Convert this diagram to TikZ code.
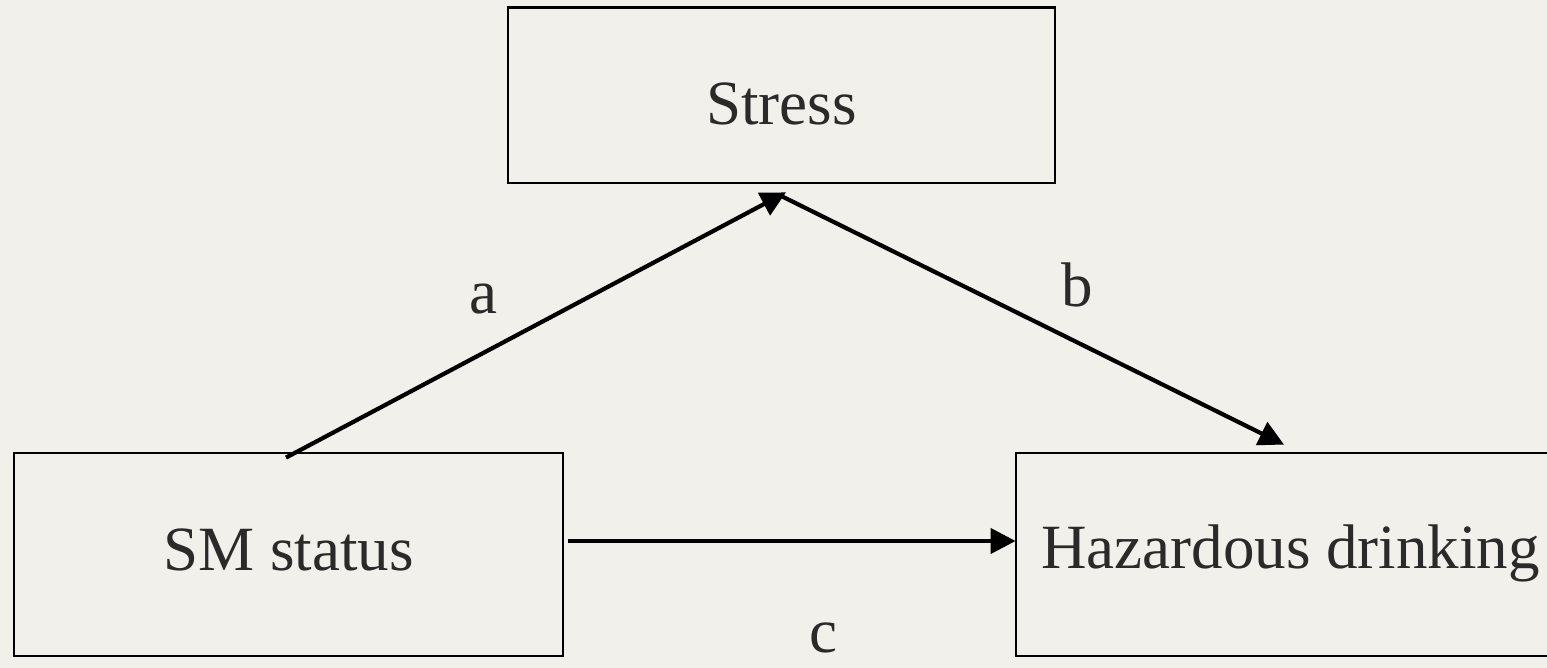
\documentclass[tikz,border=0pt]{standalone}
\usepackage{fontspec}
\setmainfont{Liberation Serif}
\usetikzlibrary{arrows.meta,calc}
\definecolor{bgcol}{RGB}{242,240,234}
\definecolor{txtcol}{RGB}{42,42,42}
\tikzset{
  varbox/.style={draw=black, line width=2.8pt, rectangle, inner sep=0pt,
    minimum width=547pt, text=txtcol, font=\fontsize{63}{70}\selectfont, text depth=0pt},
  patharrow/.style={line width=4.2pt, -{Triangle[length=25pt,width=25pt]}},
  pathlabel/.style={anchor=base, text=txtcol, font=\fontsize{63}{70}\selectfont, inner sep=0pt}
}
\begin{document}
\begin{tikzpicture}[x=1pt,y=-1pt]
\useasboundingbox (0,0) rectangle (1547,668);
\fill[bgcol] (0,0) rectangle (1547,668);
\clip (0,0) rectangle (1547,668);
\node[varbox, minimum height=175.5pt, text height=58pt] (stress) at (781.5,95.25) {Stress};
\node[varbox, minimum width=549pt, minimum height=203pt, text height=31pt] (sm) at (288.5,554.5) {SM status};
\node[varbox, minimum width=549pt, minimum height=203pt, text height=28pt] (hd) at (1290.5,554.5) {Hazardous drinking};
\coordinate (aS) at ($(sm.north)+(-2.5,6)$);
\coordinate (aT) at ($(stress.south)+(4.5,8)$);
\coordinate (bS) at ($(stress.south)+(0.5,12)$);
\coordinate (bT) at ($(hd.north)+(-6.5,-7)$);
\coordinate (cS) at ($(sm.east)+(4,-13.5)$);
\coordinate (cT) at ($(hd.west)+(1,-13.5)$);
\draw[patharrow] (aS) -- (aT);
\draw[patharrow] (bS) -- (bT);
\draw[patharrow] (cS) -- (cT);
\node[pathlabel] (la) at (483,313) {a};
\node[pathlabel] (lb) at (1077,306) {b};
\node[pathlabel] (lc) at (823,652) {c};
\end{tikzpicture}
\end{document}
